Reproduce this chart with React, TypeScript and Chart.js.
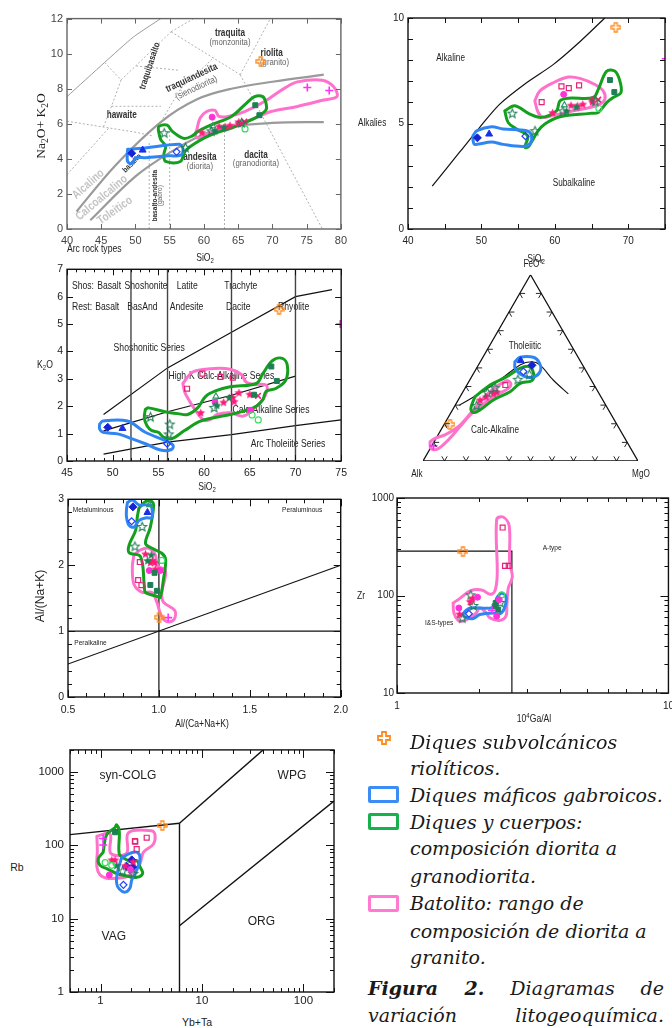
import React, { useEffect, useRef } from 'react';
import { Chart, registerables } from 'chart.js';

Chart.register(...registerables);

type P = [number, number];
type T3 = [number, number, number];

const SANS = '"Liberation Sans", Arial, Helvetica, sans-serif';
const NARROW = 'narrow';
const NARROW_SCALE = 0.82;
const SERIF = '"Liberation Serif", "Times New Roman", serif';
const LEG_SERIF = '"DejaVu Serif", serif';

const BLUE = '#2f86f3';
const GREEN = '#14a01e';
const PINK = '#ff72cc';

// ---------------- DATA: SiO2 vs Na2O+K2O (TAS and Alkalies) ----------------
const SA_ORANGE: P[] = [[68.3, 9.56]];
const SA_BLUE_DIAMOND: P[] = [[49.45, 4.32]];
const SA_BLUE_TRIANGLE: P[] = [[51.05, 4.5]];
const SA_BLUE_OPEN: P[] = [[56.0, 4.4]];
const SA_GREEN_STAR: P[] = [[54.2, 5.49], [57.3, 4.66], [61.1, 5.6], [65.5, 6.07]];
const SA_GREEN_SOLID: P[] = [[61.6, 5.6], [62.9, 5.79]];
const SA_GREEN_TRIANGLE: P[] = [[61.3, 5.87]];
const SA_GREEN_SQUARE: P[] = [[67.5, 7.06], [68.1, 6.49]];
const SA_LIGHT_CIRCLE: P[] = [[66.0, 5.71]];
const SA_PINK_SQUARE: P[] = [[58.2, 6.01], [60.9, 6.76], [61.9, 6.68], [63.3, 6.81]];
const SA_MAGENTA_CIRCLE: P[] = [[61.2, 6.38]];
const SA_PINK_STAR: P[] = [[59.7, 5.52], [62.2, 5.87], [63.1, 5.84], [63.8, 5.92], [65.1, 6.12], [65.1, 6.03]];
const SA_PINK_X: P[] = [[65.9, 6.13]];
const SA_MAGENTA_PLUS: P[] = [[75.1, 8.07], [78.3, 7.9]];

const TAS_BLUE_ENV: P[] = [[48.85, 4.55], [51.02, 4.6], [56.32, 4.83], [56.9, 4.64], [56.71, 4.23], [54.4, 4.17], [51.5, 4.07], [50.07, 4.07], [49.49, 3.74], [48.85, 3.85]];
const TAS_GREEN_ENV: P[] = [[53.33, 5.67], [53.43, 5.86], [54.63, 5.92], [55.35, 5.58], [57.04, 5.17], [58.24, 5.3], [59.21, 5.58], [61.13, 5.95], [64.02, 6.42], [66.18, 7.17], [67.39, 7.55], [68.59, 7.55], [69.07, 7.17], [69.07, 6.8], [67.87, 6.42], [66.43, 6.14], [64.02, 5.76], [61.13, 5.39], [59.21, 5.01], [57.28, 4.45], [56.56, 3.85], [54.4, 3.85], [54.15, 4.26], [54.4, 4.73], [53.67, 5.11]];
const TAS_PINK_ENV: P[] = [[58.96, 5.67], [59.45, 6.33], [60.4, 6.7], [61.61, 6.76], [62.19, 6.42], [63.54, 6.42], [65.95, 6.7], [68.84, 7.27], [71.73, 8.02], [73.65, 8.39], [77.26, 8.49], [78.95, 8.11], [79.42, 7.55], [77.5, 7.36], [73.65, 6.99], [69.8, 6.7], [66.9, 6.24], [64.02, 5.86], [61.13, 5.54], [59.21, 5.17], [58.73, 5.39]];

const TAS_SERIES_UPPER: P[] = [[41.4, 1.0], [47, 3.6], [53.7, 6.1], [59, 7.4], [64, 8.0], [70, 8.4], [77.5, 8.8]];
const TAS_SERIES_LOWER: P[] = [[43.4, 0.5], [50, 3.0], [55.2, 4.4], [60, 5.4], [64, 5.85], [70, 6.05], [77.5, 6.1]];
const TAS_FIELD_OUTER: P[] = [[40, 7.55], [45.5, 9.5], [49.7, 10.95], [53.7, 12]];
const TAS_FIELDS: P[][] = [
  [[40, 6.15], [50.3, 5.5], [52.6, 5.3]],
  [[40, 3.1], [46.2, 5.8]],
  [[45.5, 9.5], [47.9, 8.5], [46.5, 7.0], [45.3, 5.8]],
  [[46.5, 7.0], [53.7, 7.0]],
  [[53.7, 6.1], [56.6, 8.0], [61.5, 9.8]],
  [[50.1, 9.3], [56.4, 9.05]],
  [[47.9, 8.5], [55.2, 11.25]],
  [[55.2, 11.25], [58.5, 12]],
  [[55.2, 11.25], [65.3, 8.8]],
  [[65.3, 8.8], [69.7, 12]],
  [[65.3, 8.8], [77.3, 0]],
  [[52, 0], [52, 4.9]],
  [[55, 0], [55, 5.9]],
  [[63, 0], [63, 6.0]],
];

const ALK_BLUE_ENV: P[] = [[48.86, 4.43], [49.41, 4.66], [51.36, 4.85], [52.95, 4.74], [56.14, 4.66], [56.82, 4.43], [56.59, 4.04], [55.68, 3.91], [52.95, 4.01], [51.36, 4.12], [49.09, 4.01], [48.86, 4.19]];
const ALK_GREEN_ENV: P[] = [[53.18, 5.6], [54.55, 5.84], [56.59, 5.45], [58.18, 5.29], [60.23, 5.6], [60.68, 6.07], [61.82, 6.2], [65.23, 6.23], [65.91, 6.62], [67.05, 7.48], [68.18, 7.48], [68.86, 7.01], [69.0, 6.46], [67.95, 6.23], [67.05, 5.99], [65.91, 5.52], [64.77, 5.48], [60.68, 5.32], [58.64, 4.98], [57.73, 4.66], [56.82, 4.12], [56.36, 3.88], [55.91, 3.88], [56.3, 4.4], [54.77, 4.74], [53.64, 5.05]];
const ALK_PINK_ENV: P[] = [[57.27, 6.07], [57.95, 6.54], [59.77, 6.93], [61.82, 7.2], [63.41, 7.14], [65.45, 6.85], [66.59, 6.54], [66.82, 6.15], [66.14, 5.92], [64.77, 5.76], [62.5, 5.6], [60.68, 5.45], [59.55, 5.37], [58.41, 5.29], [57.73, 5.52]];
const ALK_DIVIDE: P[] = [[43.3, 2.03], [47.05, 3.65], [49.77, 4.82], [52.5, 5.92], [56.14, 6.93], [59.77, 7.79], [62.95, 8.73], [66.8, 10]];

// ---------------- DATA: SiO2 vs K2O ----------------
const K_ORANGE: P[] = [[68.2, 5.54]];
const K_BLUE_DIAMOND: P[] = [[49.46, 1.23]];
const K_BLUE_TRIANGLE: P[] = [[51.07, 1.19]];
const K_BLUE_OPEN: P[] = [[55.96, 0.63]];
const K_GREEN_STAR: P[] = [[54.14, 1.62], [56.25, 1.35], [56.14, 0.99], [61.1, 1.96]];
const K_GREEN_SOLID: P[] = [[61.4, 2.04], [62.75, 2.32]];
const K_GREEN_TRIANGLE: P[] = [[61.3, 2.36]];
const K_GREEN_SQUARE: P[] = [[67.36, 3.45], [67.96, 2.92], [65.46, 2.42]];
const K_LIGHT_CIRCLE: P[] = [[65.25, 1.68], [65.93, 1.5]];
const K_PINK_SQUARE: P[] = [[58.14, 2.64], [59.82, 3.19], [61.79, 3.07], [63.14, 3.04]];
const K_MAGENTA_CIRCLE: P[] = [[61.2, 2.15], [65.07, 1.85]];
const K_PINK_STAR: P[] = [[59.64, 1.77], [62.14, 2.15], [63.14, 2.33], [63.29, 2.18], [63.82, 2.5], [65.0, 2.44]];
const K_PINK_X: P[] = [[65.9, 2.38]];
const K_MAGENTA_PLUS: P[] = [[74.9, 5.0]];

const K_BLUE_ENV: P[] = [[48.57, 1.35], [48.93, 1.46], [51.61, 1.46], [53.57, 1.05], [55.71, 0.75], [56.61, 0.57], [56.43, 0.42], [55.36, 0.39], [53.57, 0.63], [52.14, 0.81], [50.54, 0.99], [48.93, 1.05], [48.57, 1.17]];
const K_GREEN_ENV: P[] = [[53.57, 1.88], [53.93, 1.94], [55.71, 1.8], [57.14, 1.73], [58.21, 1.7], [59.29, 1.94], [60.18, 2.36], [61.25, 2.56], [62.86, 2.71], [65.71, 2.83], [66.43, 3.19], [67.5, 3.67], [68.57, 3.75], [69.11, 3.49], [68.93, 2.95], [67.86, 2.65], [66.79, 2.54], [66.43, 2.24], [65.71, 2.0], [64.29, 1.82], [62.86, 1.7], [61.07, 1.58], [59.46, 1.44], [57.86, 1.11], [56.43, 0.81], [55.54, 0.87], [55.0, 1.05], [54.29, 1.11], [53.75, 1.29], [53.46, 1.58]];
const K_PINK_ENV: P[] = [[57.68, 2.83], [58.75, 3.25], [60.71, 3.37], [62.86, 3.35], [64.11, 3.15], [64.57, 2.89], [65.36, 2.8], [66.79, 2.77], [66.86, 2.54], [66.43, 2.24], [65.36, 1.88], [64.29, 1.64], [62.86, 1.76], [61.43, 1.7], [60.71, 1.52], [60.0, 1.49], [59.11, 1.82], [58.21, 2.3], [57.86, 2.54]];

const K_DIVIDERS: number[] = [52, 56, 63, 70];
const K_SHOSHONITIC: P[] = [[49, 1.7], [56, 3.4], [63, 4.7], [70, 6.0], [74, 6.26]];
const K_HIGHK: P[] = [[49, 1.1], [52, 1.4], [56, 1.8], [63, 2.4], [70, 3.1]];
const K_THOLEIITE: P[] = [[49, 0.25], [56, 0.69], [63, 0.96], [70, 1.29], [75, 1.5]];

// ---------------- DATA: AFM ternary [FeO*, Alk, MgO] (%) ----------------
const AFM_ORANGE: T3[] = [[19.7, 77.6, 2.7]];
const AFM_BLUE_DIAMOND: T3[] = [[51.4, 23.6, 25.0]];
const AFM_BLUE_TRIANGLE: T3[] = [[53.9, 27.6, 18.5]];
const AFM_BLUE_OPEN: T3[] = [[48.0, 29.3, 22.7]];
const AFM_GREEN_STAR: T3[] = [[46.7, 27.2, 26.1], [43.9, 33.9, 22.2], [39.4, 46.8, 13.8], [29.9, 60.1, 10.0], [36.9, 51.6, 11.5]];
const AFM_PINK_SQUARE: T3[] = [[40.8, 41.3, 17.9]];
const AFM_PINK_STAR: T3[] = [[32.8, 57.1, 10.1], [34.5, 53.4, 12.1], [36.4, 49.1, 14.5], [37.2, 47.1, 15.7]];
const AFM_MAGENTA_PLUS: T3[] = [[8.1, 91.1, 0.8]];

const AFM_TRIANGLE: T3[] = [[100, 0, 0], [0, 100, 0], [0, 0, 100], [100, 0, 0]];
const AFM_DIVIDE: T3[] = [[30.0, 68.1, 1.9], [36.4, 55.3, 8.3], [43.5, 42.5, 14.0], [51.6, 29.1, 19.3], [53.3, 22.8, 23.9], [51.6, 19.8, 28.6], [43.5, 17.7, 38.8], [36.0, 14.4, 49.6]];
const AFM_BLUE_ENV: T3[] = [[53.3, 30.6, 16.1], [55.7, 27.0, 17.3], [55.7, 20.8, 23.5], [52.8, 19.5, 27.7], [48.9, 20.8, 30.3], [45.6, 24.6, 29.8], [44.9, 28.5, 26.6], [46.7, 31.5, 21.8], [49.8, 32.3, 17.9]];
const AFM_GREEN_ENV: T3[] = [[34.5, 58.6, 6.9], [40.8, 48.4, 10.8], [45.3, 38.4, 16.3], [49.8, 30.0, 20.2], [50.7, 25.2, 24.1], [46.2, 25.3, 28.5], [43.1, 27.9, 29.0], [41.7, 34.0, 24.3], [37.2, 40.9, 21.9], [32.8, 50.9, 16.3], [27.4, 59.8, 12.8], [26.0, 63.6, 10.4], [28.3, 63.6, 8.1]];
const AFM_PINK_ENV: T3[] = [[10.4, 91.5, -1.9], [12.2, 88.3, -0.5], [14.0, 82.8, 3.2], [19.3, 73.1, 7.6], [27.4, 62.9, 9.7], [37.2, 50.2, 12.6], [43.1, 39.5, 17.4], [41.7, 38.3, 20.0], [39.0, 40.8, 20.2], [34.5, 50.0, 15.5], [29.2, 58.9, 11.9], [24.7, 65.7, 9.6], [18.5, 73.5, 8.0], [10.4, 83.8, 5.8], [6.2, 90.5, 3.3], [6.8, 93.0, 0.2]];
const AFM_TICKS: number[] = [10, 20, 30, 40, 50, 60, 70, 80, 90];

// ---------------- DATA: A/CNK vs A/NK ----------------
const AC_ORANGE: P[] = [[1.001, 1.21]];
const AC_BLUE_DIAMOND: P[] = [[0.857, 2.885]];
const AC_BLUE_TRIANGLE: P[] = [[0.937, 2.8]];
const AC_BLUE_OPEN: P[] = [[0.85, 2.667]];
const AC_GREEN_TRIANGLE: P[] = [[0.949, 2.915]];
const AC_GREEN_STAR: P[] = [[0.908, 2.588], [0.868, 2.29]];
const AC_GREEN_SOLID: P[] = [[0.958, 2.157], [0.938, 2.072]];
const AC_LIGHT_CIRCLE: P[] = [[1.016, 2.072]];
const AC_GREEN_SQUARE: P[] = [[0.953, 1.7], [0.989, 1.611], [0.976, 1.884]];
const AC_PINK_STAR: P[] = [[0.926, 2.172], [0.953, 2.043], [0.965, 2.07], [0.976, 2.043], [0.98, 1.943]];
const AC_PINK_SQUARE: P[] = [[0.895, 2.048], [0.886, 1.775], [0.904, 1.696]];
const AC_MAGENTA_CIRCLE: P[] = [[0.947, 1.919], [1.007, 1.919]];
const AC_MAGENTA_PLUS: P[] = [[1.051, 1.205]];

const AC_BLUE_ENV: P[] = [[0.827, 2.95], [0.854, 2.99], [0.89, 2.915], [0.953, 2.915], [0.962, 2.851], [0.962, 2.727], [0.926, 2.717], [0.89, 2.677], [0.863, 2.578], [0.836, 2.603], [0.822, 2.727], [0.822, 2.851]];
const AC_GREEN_ENV: P[] = [[0.89, 2.866], [0.926, 2.965], [0.962, 2.965], [0.971, 2.9], [0.953, 2.578], [0.926, 2.33], [0.962, 2.256], [1.016, 2.181], [1.037, 2.082], [1.025, 1.785], [1.007, 1.512], [0.989, 1.527], [0.926, 1.587], [0.92, 1.686], [0.899, 2.132], [0.836, 2.191], [0.836, 2.305], [0.872, 2.528], [0.881, 2.727]];
const AC_PINK_ENV: P[] = [[0.863, 2.157], [0.899, 2.231], [0.944, 2.256], [0.98, 2.157], [0.994, 1.983], [1.034, 1.934], [1.034, 1.81], [1.016, 1.587], [1.025, 1.438], [1.087, 1.314], [1.084, 1.18], [1.051, 1.14], [1.016, 1.215], [0.989, 1.438], [0.962, 1.587], [0.908, 1.587], [0.863, 1.71], [0.854, 1.983]];
const AC_VERTICAL: P[] = [[1, 0], [1, 3]];
const AC_HORIZONTAL: P[] = [[0.5, 1], [2, 1]];
const AC_DIAGONAL: P[] = [[0.5, 0.5], [2, 2]];

// ---------------- DATA: 10^4 Ga/Al vs Zr ----------------
const ZR_ORANGE: P[] = [[1.75, 283]];
const ZR_PINK_SQUARE: P[] = [[2.45, 498], [2.5, 201], [2.58, 201]];
const ZR_MAGENTA_CIRCLE: P[] = [[1.69, 74.5], [1.98, 96], [2.38, 90.4], [2.33, 61.4]];
const ZR_PINK_STAR: P[] = [[1.7, 64.7], [1.86, 87], [1.9, 94]];
const ZR_GREEN_STAR: P[] = [[1.74, 59], [1.87, 101.6], [1.91, 79], [2.4, 85]];
const ZR_BLUE_OPEN: P[] = [[1.84, 65]];
const ZR_MAGENTA_PLUS: P[] = [[2.24, 70.5]];
const ZR_GREEN_SQUARE: P[] = [[2.29, 77.4], [2.36, 71.7], [2.31, 83.6]];
const ZR_LIGHT_CIRCLE: P[] = [[2.43, 101.6]];

const ZR_BLUE_ENV: P[] = [[1.78, 68.9], [1.86, 74.5], [2.26, 75.7], [2.33, 94.0], [2.43, 105.5], [2.52, 97.7], [2.49, 74.5], [2.39, 64.7], [2.26, 66.3], [2.02, 63.8], [1.91, 58.1], [1.81, 59.0], [1.75, 63.8]];
const ZR_PINK_ENV: P[] = [[1.61, 83.6], [1.71, 94.0], [1.86, 111.5], [2.05, 114], [2.2, 103], [2.29, 109.7], [2.34, 161.8], [2.33, 604], [2.46, 638], [2.59, 518], [2.6, 220], [2.66, 155.6], [2.57, 118.6], [2.54, 80.5], [2.52, 61.4], [2.39, 55.5], [2.2, 59], [2.13, 66.3], [2.02, 74.5], [1.96, 66.3], [1.86, 59], [1.75, 54.6], [1.68, 55.5], [1.62, 66.3]];
const ZR_LIMIT: P[] = [[1, 285], [2.65, 285], [2.65, 10]];

// ---------------- DATA: Yb+Ta vs Rb ----------------
const RB_ORANGE: P[] = [[4.06, 186.6]];
const RB_GREEN_SQUARE: P[] = [[1.39, 150.6]];
const RB_MAGENTA_PLUS: P[] = [[1.06, 124], [1.06, 101]];
const RB_PINK_SQUARE: P[] = [[2.18, 114], [2.85, 127], [2.27, 88.7], [2.2, 112]];
const RB_LIGHT_CIRCLE: P[] = [[1.11, 58], [1.29, 53.3]];
const RB_MAGENTA_CIRCLE: P[] = [[1.22, 39.3], [1.97, 47]];
const RB_PINK_STAR: P[] = [[1.29, 63.4], [1.39, 63.4], [2.1, 60], [1.75, 53]];
const RB_GREEN_SOLID: P[] = [[1.44, 53.3]];
const RB_BLUE_DIAMOND: P[] = [[1.81, 51.8], [2.03, 63.4], [2.07, 50.7]];
const RB_BLUE_OPEN: P[] = [[1.68, 28.9]];
const RB_GREEN_STAR: P[] = [[1.65, 44.9], [2.1, 41.3]];

const RB_BLUE_ENV: P[] = [[1.61, 67.5], [1.95, 77.8], [2.3, 80.2], [2.45, 65.5], [2.27, 45.8], [2.03, 33.7], [1.95, 26.2], [1.74, 23], [1.53, 25.3], [1.44, 30.5], [1.46, 41.3]];
const RB_GREEN_ENV: P[] = [[1.06, 80.2], [1.15, 140], [1.39, 175], [1.44, 190.6], [1.53, 155], [1.53, 76.2], [1.74, 65.5], [2.03, 59.2], [2.27, 62.1], [2.45, 50.7], [2.6, 41.3], [2.27, 36.6], [1.81, 38.1], [1.44, 41.3], [1.15, 48.2], [0.99, 53.3], [0.95, 65.5]];
const RB_PINK_ENV: P[] = [[0.92, 133], [1.24, 143], [1.26, 77.8], [1.81, 77.8], [1.88, 147.6], [3.19, 158.5], [3.44, 140], [3.31, 103.5], [2.64, 80.2], [2.45, 56.1], [2.1, 43.4], [1.81, 37.3], [1.39, 35.5], [1.15, 35.5], [0.99, 39.3], [0.92, 50.7], [0.93, 84.3]];
const RB_COLG: P[] = [[0.5, 140], [6, 200]];
const RB_VAG: P[] = [[6, 1], [6, 200]];
const RB_WPG: P[] = [[6, 200], [40, 2000]];
const RB_ORG: P[] = [[6, 8], [200, 400]];

// ---------------- LEGEND / CAPTION ----------------
const LEGEND_TEXT: [string, number][] = [
  ['Diques subvolcánicos', 742],
  ['riolíticos.', 768],
  ['Diques máficos gabroicos.', 795],
  ['Diques y cuerpos:', 822],
  ['composición diorita a', 848],
  ['granodiorita.', 876],
  ['Batolito: rango de', 903],
  ['composición de diorita a', 931],
  ['granito.', 957],
];

// ---------------- helpers ----------------
type Kind = 'orange' | 'blueDiamond' | 'blueTriangle' | 'blueOpen' | 'greenStar' | 'greenSolid' | 'greenTriangle' | 'greenSquare' | 'lightCircle' | 'pinkSquare' | 'magentaCircle' | 'pinkStar' | 'pinkX' | 'magentaPlus';

function tern(v: T3): P {
  const s = v[0] + v[1] + v[2];
  const f = v[0] / s, m = v[2] / s;
  return [m + f / 2, f * 0.8660254];
}
const ternAll = (a: T3[]): P[] => a.map(tern);

function range(a: number, b: number, step: number): number[] {
  const out: number[] = [];
  for (let v = a; v <= b + 1e-9; v += step) out.push(Math.round(v * 1000) / 1000);
  return out;
}
function logMinor(lo: number, hi: number): number[] {
  const out: number[] = [];
  for (let d = 0.1; d <= hi; d *= 10) for (let k = 2; k <= 9; k++) { const v = Math.round(k * d * 1000) / 1000; if (v >= lo && v <= hi) out.push(v); }
  return out;
}

function starCanvas(color: string, filled: boolean, R = 4.6) {
  const s = Math.ceil(R * 2 + 3);
  const c = document.createElement('canvas');
  c.width = s; c.height = s;
  const g = c.getContext('2d')!;
  g.beginPath();
  for (let i = 0; i < 10; i++) {
    const rr = i % 2 ? R * 0.45 : R;
    const a = -Math.PI / 2 + (i * Math.PI) / 5;
    const px = s / 2 + rr * Math.cos(a), py = s / 2 + 0.5 + rr * Math.sin(a);
    if (i) g.lineTo(px, py); else g.moveTo(px, py);
  }
  g.closePath();
  if (filled) { g.fillStyle = color; g.fill(); } else { g.strokeStyle = color; g.lineWidth = 1.1; g.stroke(); }
  return c;
}
function plusCanvas(color: string) {
  const c = document.createElement('canvas');
  c.width = 11; c.height = 11;
  const g = c.getContext('2d')!;
  g.strokeStyle = color; g.lineWidth = 1.3;
  g.beginPath();
  g.moveTo(4, 1); g.lineTo(7, 1); g.lineTo(7, 4); g.lineTo(10, 4); g.lineTo(10, 7); g.lineTo(7, 7); g.lineTo(7, 10);
  g.lineTo(4, 10); g.lineTo(4, 7); g.lineTo(1, 7); g.lineTo(1, 4); g.lineTo(4, 4); g.closePath();
  g.stroke();
  return c;
}

function markerStyle(kind: Kind): any {
  switch (kind) {
    case 'orange': return { pointStyle: plusCanvas('#ff8a1e'), pointRadius: 4 };
    case 'blueDiamond': return { pointStyle: 'rectRot', pointRadius: 4, pointBackgroundColor: '#1424d4', pointBorderColor: '#1424d4', pointBorderWidth: 1 };
    case 'blueTriangle': return { pointStyle: 'triangle', pointRadius: 4, pointBackgroundColor: '#1830e8', pointBorderColor: '#1830e8', pointBorderWidth: 1 };
    case 'blueOpen': return { pointStyle: 'rectRot', pointRadius: 3.5, pointBackgroundColor: 'rgba(255,255,255,0)', pointBorderColor: '#2040ff', pointBorderWidth: 1.2 };
    case 'greenStar': return { pointStyle: starCanvas('#1e7f55', false), pointRadius: 4 };
    case 'greenSolid': return { pointStyle: starCanvas('#1e7f55', true), pointRadius: 4 };
    case 'greenTriangle': return { pointStyle: 'triangle', pointRadius: 3.5, pointBackgroundColor: 'rgba(255,255,255,0)', pointBorderColor: '#2e9a6a', pointBorderWidth: 1.1 };
    case 'greenSquare': return { pointStyle: 'rect', pointRadius: 3.5, pointBackgroundColor: '#1e7f55', pointBorderColor: '#1e7f55', pointBorderWidth: 1 };
    case 'lightCircle': return { pointStyle: 'circle', pointRadius: 3, pointBackgroundColor: 'rgba(255,255,255,0)', pointBorderColor: '#38e060', pointBorderWidth: 1.2 };
    case 'pinkSquare': return { pointStyle: 'rect', pointRadius: 3.5, pointBackgroundColor: 'rgba(255,255,255,0)', pointBorderColor: '#e8207a', pointBorderWidth: 1.2 };
    case 'magentaCircle': return { pointStyle: 'circle', pointRadius: 3, pointBackgroundColor: '#ff30d8', pointBorderColor: '#ff30d8', pointBorderWidth: 1 };
    case 'pinkStar': return { pointStyle: starCanvas('#ff1a78', true), pointRadius: 4 };
    case 'pinkX': return { pointStyle: 'crossRot', pointRadius: 4, pointBorderColor: '#ff1a78', pointBorderWidth: 1.6 };
    case 'magentaPlus': return { pointStyle: 'cross', pointRadius: 4, pointBorderColor: '#ff30ff', pointBorderWidth: 1.6 };
  }
}

interface LineSpec { pts: P[]; color: string; width: number; dash?: number[]; tension?: number }
interface TextSpec { text: string; x: number; y: number; size: number; color?: string; weight?: string; rot?: number; align?: CanvasTextAlign; family?: string }
interface AxisSpec { type: 'linear' | 'logarithmic'; min: number; max: number; labels: number[]; fmt?: (v: number) => string; size: number; pad: number; color?: string }
interface FrameSpec { color: string; width: number; xMajor: number[]; xMinor: number[]; yMajor: number[]; yMinor: number[]; majorLen: number; minorLen: number }
interface Spec {
  area: [number, number, number, number];
  pad: { l: number; t: number; r: number; b: number };
  x?: AxisSpec; y?: AxisSpec;
  hidden?: { xMin: number; xMax: number; yMin: number; yMax: number };
  lines: LineSpec[]; envelopes: LineSpec[]; samples: [Kind, P[]][];
  texts: TextSpec[];
  frame?: FrameSpec;
  extra?: (chart: any) => void;
}

const env = (pts: P[], color: string, width = 3): LineSpec => ({ pts, color, width });

// ---------------- panel specs ----------------
const TAS_SPEC: Spec = {
  area: [67, 16, 344, 229], pad: { l: 40, t: 8, r: 8, b: 22 },
  x: { type: 'linear', min: 40, max: 80, labels: range(40, 80, 5), size: 11, pad: 5, color: '#444' },
  y: { type: 'linear', min: 0, max: 12, labels: range(0, 12, 2), size: 11, pad: 4, color: '#444' },
  lines: [
    ...TAS_FIELDS.map((pts) => ({ pts, color: '#a8a8a8', width: 0.9, dash: [2, 2] })),
    { pts: TAS_FIELD_OUTER, color: '#9a9a9a', width: 1, tension: 0.2 },
    { pts: TAS_SERIES_UPPER, color: '#9a9a9a', width: 2.2, tension: 0.35 },
    { pts: TAS_SERIES_LOWER, color: '#9a9a9a', width: 2.2, tension: 0.35 },
  ],
  envelopes: [env(TAS_BLUE_ENV, BLUE), env(TAS_GREEN_ENV, GREEN), env(TAS_PINK_ENV, PINK)],
  samples: [
    ['orange', SA_ORANGE], ['blueDiamond', SA_BLUE_DIAMOND], ['blueTriangle', SA_BLUE_TRIANGLE], ['blueOpen', SA_BLUE_OPEN],
    ['greenStar', SA_GREEN_STAR], ['greenSolid', SA_GREEN_SOLID], ['greenTriangle', SA_GREEN_TRIANGLE], ['greenSquare', SA_GREEN_SQUARE],
    ['lightCircle', SA_LIGHT_CIRCLE], ['magentaCircle', SA_MAGENTA_CIRCLE], ['pinkStar', SA_PINK_STAR], ['pinkX', SA_PINK_X], ['magentaPlus', SA_MAGENTA_PLUS],
  ],
  texts: [
    { text: 'traquita', x: 63.8, y: 11.15, size: 10, weight: 'bold', color: '#333' },
    { text: '(monzonita)', x: 63.8, y: 10.65, size: 9.5, color: '#666' },
    { text: 'riolita', x: 69.9, y: 10.0, size: 10, weight: 'bold', color: '#333' },
    { text: '(granito)', x: 70.3, y: 9.52, size: 9.5, color: '#666' },
    { text: 'traquiandesita', x: 58.2, y: 8.62, size: 10, weight: 'bold', color: '#333', rot: -25 },
    { text: '(sienodiorita)', x: 58.9, y: 8.05, size: 9.5, color: '#666', rot: -25 },
    { text: 'traquibasalto', x: 52.1, y: 9.3, size: 9.5, weight: 'bold', color: '#333', rot: -72 },
    { text: 'hawaite', x: 48.0, y: 6.5, size: 10, weight: 'bold', color: '#333' },
    { text: 'andesita', x: 59.4, y: 4.07, size: 10, weight: 'bold', color: '#333' },
    { text: '(diorita)', x: 59.4, y: 3.58, size: 9.5, color: '#666' },
    { text: 'dacita', x: 67.6, y: 4.2, size: 10, weight: 'bold', color: '#333' },
    { text: '(granodiorita)', x: 67.6, y: 3.72, size: 9.5, color: '#666' },
    { text: 'basalto-andesita', x: 52.75, y: 1.9, size: 8, weight: 'bold', color: '#333', rot: -90 },
    { text: '(gabro)', x: 53.6, y: 1.9, size: 8, color: '#666', rot: -90 },
    { text: 'basalto', x: 49.5, y: 3.75, size: 8, weight: 'bold', color: '#333', rot: -45 },
    { text: 'Alcalino', x: 43.1, y: 2.55, size: 12, weight: 'bold', color: '#c4c4c4', rot: -42 },
    { text: 'Calcoalcalino', x: 45.05, y: 1.78, size: 12, weight: 'bold', color: '#c4c4c4', rot: -40 },
    { text: 'Toleitico', x: 47.0, y: 1.05, size: 12, weight: 'bold', color: '#c4c4c4', rot: -35 },
  ],
  frame: { color: '#666', width: 1.4, xMajor: range(40, 80, 5), xMinor: [], yMajor: range(0, 12, 2), yMinor: [], majorLen: 5, minorLen: 3 },
};

const ALK_SPEC: Spec = {
  area: [408, 16, 665, 229], pad: { l: 30, t: 8, r: 7, b: 22 },
  x: { type: 'linear', min: 40, max: 75, labels: [40, 50, 60, 70], size: 10, pad: 6 },
  y: { type: 'linear', min: 0, max: 10, labels: [0, 5, 10], size: 10, pad: 4 },
  lines: [{ pts: ALK_DIVIDE, color: '#111', width: 1.2, tension: 0.3 }],
  envelopes: [env(ALK_BLUE_ENV, BLUE), env(ALK_GREEN_ENV, GREEN), env(ALK_PINK_ENV, PINK)],
  samples: [
    ['orange', SA_ORANGE], ['blueDiamond', SA_BLUE_DIAMOND], ['blueTriangle', SA_BLUE_TRIANGLE], ['blueOpen', SA_BLUE_OPEN],
    ['greenStar', SA_GREEN_STAR], ['greenSolid', SA_GREEN_SOLID], ['greenTriangle', SA_GREEN_TRIANGLE], ['greenSquare', SA_GREEN_SQUARE],
    ['lightCircle', SA_LIGHT_CIRCLE], ['pinkSquare', SA_PINK_SQUARE], ['magentaCircle', SA_MAGENTA_CIRCLE], ['pinkStar', SA_PINK_STAR], ['pinkX', SA_PINK_X], ['magentaPlus', SA_MAGENTA_PLUS],
  ],
  texts: [
    { text: 'Alkaline', x: 45.8, y: 8.1, size: 10 },
    { text: 'Subalkaline', x: 62.6, y: 2.16, size: 10 },
  ],
  frame: { color: '#111', width: 1.4, xMajor: range(40, 75, 5), xMinor: [], yMajor: range(0, 10, 1), yMinor: [], majorLen: 5, minorLen: 3 },
};

const K_SPEC: Spec = {
  area: [67, 265, 347, 461], pad: { l: 30, t: 6, r: 6, b: 20 },
  x: { type: 'linear', min: 45, max: 75, labels: range(45, 75, 5), size: 10.5, pad: 6 },
  y: { type: 'linear', min: 0, max: 7, labels: range(0, 7, 1), size: 10.5, pad: 4 },
  lines: [
    ...K_DIVIDERS.map((v) => ({ pts: [[v, 0], [v, 7]] as P[], color: '#444', width: 1.4 })),
    { pts: K_SHOSHONITIC, color: '#111', width: 1.2 },
    { pts: K_HIGHK, color: '#111', width: 1.2 },
    { pts: K_THOLEIITE, color: '#111', width: 1.2 },
  ],
  envelopes: [env(K_BLUE_ENV, BLUE), env(K_GREEN_ENV, GREEN), env(K_PINK_ENV, PINK)],
  samples: [
    ['orange', K_ORANGE], ['blueDiamond', K_BLUE_DIAMOND], ['blueTriangle', K_BLUE_TRIANGLE], ['blueOpen', K_BLUE_OPEN],
    ['greenStar', K_GREEN_STAR], ['greenSolid', K_GREEN_SOLID], ['greenTriangle', K_GREEN_TRIANGLE], ['greenSquare', K_GREEN_SQUARE],
    ['lightCircle', K_LIGHT_CIRCLE], ['pinkSquare', K_PINK_SQUARE], ['magentaCircle', K_MAGENTA_CIRCLE], ['pinkStar', K_PINK_STAR], ['pinkX', K_PINK_X], ['magentaPlus', K_MAGENTA_PLUS],
  ],
  texts: [
    { text: 'Shos:', x: 45.54, y: 6.37, size: 10.5, align: 'left' },
    { text: 'Basalt', x: 48.3, y: 6.37, size: 10.5, align: 'left' },
    { text: 'Shoshonite', x: 51.3, y: 6.37, size: 10.5, align: 'left' },
    { text: 'Latite', x: 57.0, y: 6.37, size: 10.5, align: 'left' },
    { text: 'Trachyte', x: 62.2, y: 6.37, size: 10.5, align: 'left' },
    { text: 'Rest:', x: 45.54, y: 5.63, size: 10.5, align: 'left' },
    { text: 'Basalt', x: 48.1, y: 5.63, size: 10.5, align: 'left' },
    { text: 'BasAnd', x: 51.6, y: 5.63, size: 10.5, align: 'left' },
    { text: 'Andesite', x: 56.25, y: 5.63, size: 10.5, align: 'left' },
    { text: 'Dacite', x: 62.4, y: 5.63, size: 10.5, align: 'left' },
    { text: 'Rhyolite', x: 68.1, y: 5.63, size: 10.5, align: 'left' },
    { text: 'Shoshonitic Series', x: 50.1, y: 4.11, size: 10.5, align: 'left' },
    { text: 'High-K Calc-Alkaline Series', x: 56.1, y: 3.1, size: 10.5, align: 'left' },
    { text: 'Calc-Alkaline Series', x: 63.1, y: 1.87, size: 10.5, align: 'left' },
    { text: 'Arc Tholeiite Series', x: 65.1, y: 0.63, size: 10.5, align: 'left' },
  ],
  frame: { color: '#111', width: 1.4, xMajor: range(45, 75, 5), xMinor: range(45, 75, 1), yMajor: range(0, 7, 1), yMinor: [], majorLen: 6, minorLen: 3 },
};

function afmTicks(chart: any) {
  const { ctx, scales: { x, y } } = chart;
  const px = (v: T3) => { const p = tern(v); return [x.getPixelForValue(p[0]), y.getPixelForValue(p[1])]; };
  const seg = (a: T3, b: T3) => { const p = px(a), q = px(b); ctx.moveTo(p[0], p[1]); ctx.lineTo(q[0], q[1]); };
  const d = 2.5;
  ctx.save();
  ctx.strokeStyle = '#111'; ctx.lineWidth = 0.9;
  ctx.beginPath();
  AFM_TICKS.forEach((t) => {
    seg([0, 100 - t, t], [d, 100 - t - d, t]);
    seg([0, 100 - t, t], [d, 100 - t, t - d]);
    seg([t, 100 - t, 0], [t, 100 - t - d, d]);
    seg([t, 100 - t, 0], [t - d, 100 - t, d]);
    seg([t, 0, 100 - t], [t, d, 100 - t - d]);
    seg([t, 0, 100 - t], [t - d, d, 100 - t]);
  });
  ctx.stroke();
  ctx.restore();
}

const AFM_SPEC: Spec = {
  area: [423, 274.8, 638, 461], pad: { l: 6, t: 6, r: 6, b: 6 },
  hidden: { xMin: 0, xMax: 1, yMin: 0, yMax: 0.8660254 },
  lines: [
    { pts: ternAll(AFM_TRIANGLE), color: '#111', width: 1.3 },
    { pts: ternAll(AFM_DIVIDE), color: '#111', width: 1.1, tension: 0.3 },
  ],
  envelopes: [env(ternAll(AFM_BLUE_ENV), BLUE), env(ternAll(AFM_GREEN_ENV), GREEN), env(ternAll(AFM_PINK_ENV), PINK)],
  samples: [
    ['orange', ternAll(AFM_ORANGE)], ['blueDiamond', ternAll(AFM_BLUE_DIAMOND)], ['blueTriangle', ternAll(AFM_BLUE_TRIANGLE)], ['blueOpen', ternAll(AFM_BLUE_OPEN)],
    ['greenStar', ternAll(AFM_GREEN_STAR)], ['pinkSquare', ternAll(AFM_PINK_SQUARE)], ['pinkStar', ternAll(AFM_PINK_STAR)], ['magentaPlus', ternAll(AFM_MAGENTA_PLUS)],
  ],
  texts: [
    { text: 'Tholeiitic', x: tern([61.8, 21.7, 16.5])[0], y: tern([61.8, 21.7, 16.5])[1], size: 10 },
    { text: 'Calc-Alkaline', x: tern([16.6, 58.2, 25.2])[0], y: tern([16.6, 58.2, 25.2])[1], size: 10 },
  ],
  extra: afmTicks,
};

const AC_SPEC: Spec = {
  area: [68, 495, 346, 697], pad: { l: 30, t: 6, r: 9, b: 22 },
  x: { type: 'linear', min: 0.5, max: 2, labels: [0.5, 1, 1.5, 2], fmt: (v) => v.toFixed(1), size: 10.5, pad: 7 },
  y: { type: 'linear', min: 0, max: 3, labels: [0, 1, 2, 3], size: 10.5, pad: 4 },
  lines: [
    { pts: AC_VERTICAL, color: '#111', width: 1.2 },
    { pts: AC_HORIZONTAL, color: '#111', width: 1.2 },
    { pts: AC_DIAGONAL, color: '#111', width: 1.2 },
  ],
  envelopes: [env(AC_BLUE_ENV, BLUE), env(AC_GREEN_ENV, GREEN), env(AC_PINK_ENV, PINK)],
  samples: [
    ['orange', AC_ORANGE], ['blueDiamond', AC_BLUE_DIAMOND], ['blueTriangle', AC_BLUE_TRIANGLE], ['blueOpen', AC_BLUE_OPEN],
    ['greenTriangle', AC_GREEN_TRIANGLE], ['greenStar', AC_GREEN_STAR], ['greenSolid', AC_GREEN_SOLID], ['lightCircle', AC_LIGHT_CIRCLE],
    ['greenSquare', AC_GREEN_SQUARE], ['pinkStar', AC_PINK_STAR], ['pinkSquare', AC_PINK_SQUARE], ['magentaCircle', AC_MAGENTA_CIRCLE], ['magentaPlus', AC_MAGENTA_PLUS],
  ],
  texts: [
    { text: 'Metaluminous', x: 0.638, y: 2.836, size: 8 },
    { text: 'Peraluminous', x: 1.788, y: 2.836, size: 8 },
    { text: 'Peralkaline', x: 0.624, y: 0.828, size: 8 },
  ],
  frame: { color: '#111', width: 1.4, xMajor: [0.5, 1, 1.5, 2], xMinor: range(0.5, 2, 0.1), yMajor: [0, 1, 2, 3], yMinor: range(0, 3, 0.2), majorLen: 7, minorLen: 4 },
};

const ZR_SPEC: Spec = {
  area: [397, 495, 669, 693], pad: { l: 32, t: 6, r: 12, b: 22 },
  x: { type: 'logarithmic', min: 1, max: 10, labels: [1, 10], size: 10, pad: 7 },
  y: { type: 'logarithmic', min: 10, max: 1000, labels: [10, 100, 1000], size: 10, pad: 3 },
  lines: [{ pts: ZR_LIMIT, color: '#111', width: 1.2 }],
  envelopes: [env(ZR_BLUE_ENV, BLUE), env(ZR_PINK_ENV, PINK)],
  samples: [
    ['orange', ZR_ORANGE], ['pinkSquare', ZR_PINK_SQUARE], ['magentaCircle', ZR_MAGENTA_CIRCLE], ['pinkStar', ZR_PINK_STAR],
    ['greenStar', ZR_GREEN_STAR], ['blueOpen', ZR_BLUE_OPEN], ['magentaPlus', ZR_MAGENTA_PLUS], ['greenSquare', ZR_GREEN_SQUARE], ['lightCircle', ZR_LIGHT_CIRCLE],
  ],
  texts: [
    { text: 'A-type', x: 3.73, y: 312, size: 8 },
    { text: 'I&S-types', x: 1.43, y: 52.5, size: 8 },
  ],
  frame: { color: '#111', width: 1.4, xMajor: [1, 10], xMinor: logMinor(1, 10), yMajor: [10, 100, 1000], yMinor: logMinor(10, 1000), majorLen: 8, minorLen: 4 },
};

const RB_SPEC: Spec = {
  area: [70, 743, 334, 992], pad: { l: 35, t: 6, r: 6, b: 20 },
  x: { type: 'logarithmic', min: 0.5, max: 200, labels: [1, 10, 100], size: 11.5, pad: 2 },
  y: { type: 'logarithmic', min: 1, max: 2000, labels: [1, 10, 100, 1000], size: 11.5, pad: 6 },
  lines: [
    { pts: RB_COLG, color: '#111', width: 1.4 },
    { pts: RB_VAG, color: '#111', width: 1.4 },
    { pts: RB_WPG, color: '#111', width: 1.4 },
    { pts: RB_ORG, color: '#111', width: 1.4 },
  ],
  envelopes: [env(RB_BLUE_ENV, BLUE), env(RB_GREEN_ENV, GREEN), env(RB_PINK_ENV, PINK)],
  samples: [
    ['orange', RB_ORANGE], ['greenSquare', RB_GREEN_SQUARE], ['magentaPlus', RB_MAGENTA_PLUS], ['pinkSquare', RB_PINK_SQUARE],
    ['lightCircle', RB_LIGHT_CIRCLE], ['magentaCircle', RB_MAGENTA_CIRCLE], ['pinkStar', RB_PINK_STAR], ['greenSolid', RB_GREEN_SOLID],
    ['blueDiamond', RB_BLUE_DIAMOND], ['blueOpen', RB_BLUE_OPEN], ['greenStar', RB_GREEN_STAR],
  ],
  texts: [
    { text: 'syn-COLG', x: 1.86, y: 877, size: 12, family: SANS },
    { text: 'WPG', x: 77, y: 877, size: 12, family: SANS },
    { text: 'VAG', x: 1.35, y: 5.68, size: 12, family: SANS },
    { text: 'ORG', x: 38.5, y: 8.96, size: 12, family: SANS },
  ],
  frame: { color: '#111', width: 1.4, xMajor: [1, 10, 100], xMinor: logMinor(0.5, 200), yMajor: [1, 10, 100, 1000], yMinor: logMinor(1, 2000), majorLen: 8, minorLen: 4 },
};

const SPECS: Spec[] = [TAS_SPEC, ALK_SPEC, K_SPEC, AFM_SPEC, AC_SPEC, ZR_SPEC, RB_SPEC];

// ---------------- chart building ----------------
function geometry(spec: Spec) {
  const [l, t, r, b] = spec.area;
  const cl = Math.floor(l - spec.pad.l), ct = Math.floor(t - spec.pad.t);
  const W = Math.ceil(r + spec.pad.r - cl), H = Math.ceil(b + spec.pad.b - ct);
  return { cl, ct, W, H, padL: l - cl, padT: t - ct, padR: W - (r - cl), padB: H - (b - ct) };
}

function buildConfig(spec: Spec): any {
  const g = geometry(spec);
  const toXY = (pts: P[]) => pts.map(([x, y]) => ({ x, y }));
  const datasets: any[] = [];
  spec.samples.forEach(([kind, pts]) => datasets.push({ data: toXY(pts), showLine: false, order: 1, pointHoverRadius: 0, ...markerStyle(kind) }));
  spec.envelopes.forEach((e) => datasets.push({ data: toXY([...e.pts, e.pts[0]]), showLine: true, borderColor: e.color, borderWidth: e.width, pointRadius: 0, pointHoverRadius: 0, tension: 0.35, fill: false, order: 2, borderJoinStyle: 'round', borderCapStyle: 'round' }));
  spec.lines.forEach((ln) => datasets.push({ data: toXY(ln.pts), showLine: true, borderColor: ln.color, borderWidth: ln.width, borderDash: ln.dash || [], pointRadius: 0, pointHoverRadius: 0, tension: ln.tension || 0, fill: false, order: 3 }));

  const axis = (a: AxisSpec, pos: string, size: number) => ({
    type: a.type, position: pos, min: a.min, max: a.max,
    grid: { display: false, drawTicks: false }, border: { display: false },
    ticks: { autoSkip: false, maxRotation: 0, minRotation: 0, padding: a.pad, color: a.color || '#222', font: { family: SANS, size: a.size }, callback: (v: any) => (a.fmt ? a.fmt(Number(v)) : String(v)) },
    afterBuildTicks: (s: any) => { s.ticks = a.labels.map((v) => ({ value: v })); },
    afterFit: (s: any) => { if (pos === 'left') s.width = size; else s.height = size; },
  });

  let scales: any, padding: any;
  if (spec.hidden) {
    const h = spec.hidden;
    scales = { x: { type: 'linear', display: false, min: h.xMin, max: h.xMax }, y: { type: 'linear', display: false, min: h.yMin, max: h.yMax } };
    padding = { left: g.padL, top: g.padT, right: g.padR, bottom: g.padB };
  } else {
    scales = { x: axis(spec.x!, 'bottom', g.padB), y: axis(spec.y!, 'left', g.padL) };
    padding = { left: 0, top: g.padT, right: g.padR, bottom: 0 };
  }

  const notes = {
    id: 'notes',
    beforeDatasetsDraw(chart: any) {
      const { ctx, scales: { x, y } } = chart;
      spec.texts.forEach((t) => {
        const narrow = !t.family || t.family === NARROW;
        ctx.save();
        ctx.translate(x.getPixelForValue(t.x), y.getPixelForValue(t.y));
        if (t.rot) ctx.rotate((t.rot * Math.PI) / 180);
        if (narrow) ctx.scale(NARROW_SCALE, 1);
        ctx.font = `${t.weight || 'normal'} ${t.size}px ${narrow ? SANS : t.family}`;
        ctx.fillStyle = t.color || '#222';
        ctx.textAlign = t.align || 'center';
        ctx.textBaseline = 'middle';
        ctx.fillText(t.text, 0, 0);
        ctx.restore();
      });
    },
  };
  const frame = {
    id: 'frame',
    afterDatasetsDraw(chart: any) {
      if (spec.extra) spec.extra(chart);
      const f = spec.frame;
      if (!f) return;
      const { ctx, chartArea: a, scales: { x, y } } = chart;
      ctx.save();
      ctx.strokeStyle = f.color; ctx.lineWidth = 1;
      ctx.beginPath();
      const xt = (vals: number[], len: number) => vals.forEach((v) => { const p = Math.round(x.getPixelForValue(v)) + 0.5; ctx.moveTo(p, a.bottom); ctx.lineTo(p, a.bottom - len); ctx.moveTo(p, a.top); ctx.lineTo(p, a.top + len); });
      const yt = (vals: number[], len: number) => vals.forEach((v) => { const p = Math.round(y.getPixelForValue(v)) + 0.5; ctx.moveTo(a.left, p); ctx.lineTo(a.left + len, p); ctx.moveTo(a.right, p); ctx.lineTo(a.right - len, p); });
      xt(f.xMinor, f.minorLen); xt(f.xMajor, f.majorLen); yt(f.yMinor, f.minorLen); yt(f.yMajor, f.majorLen);
      ctx.stroke();
      ctx.lineWidth = f.width;
      ctx.strokeRect(a.left, a.top, a.right - a.left, a.bottom - a.top);
      ctx.restore();
    },
  };

  return {
    type: 'scatter',
    data: { datasets },
    options: {
      responsive: false, maintainAspectRatio: false, animation: false, devicePixelRatio: 1, events: [],
      layout: { padding, autoPadding: false },
      plugins: { legend: { display: false }, tooltip: { enabled: false } },
      scales,
    },
    plugins: [notes, frame],
  };
}

function ChartCanvas({ spec }: { spec: Spec }) {
  const ref = useRef<HTMLCanvasElement>(null);
  const g = geometry(spec);
  useEffect(() => {
    const chart = new Chart(ref.current!, buildConfig(spec));
    return () => chart.destroy();
  }, [spec]);
  return <canvas ref={ref} width={g.W} height={g.H} style={{ position: 'absolute', left: g.cl, top: g.ct, width: g.W, height: g.H }} />;
}

function Label({ x, y, size, family = NARROW, rot = 0, color = '#222', anchor = 'center', weight, children }: any) {
  const narrow = family === NARROW;
  const tx = anchor === 'left' ? '0' : '-50%';
  const sc = narrow ? ` scaleX(${NARROW_SCALE})` : '';
  return (
    <div style={{ position: 'absolute', left: x, top: y, transform: `translate(${tx},-50%) rotate(${rot}deg)${sc}`, transformOrigin: anchor === 'left' ? 'left center' : 'center center', fontSize: size, fontFamily: narrow ? SANS : family, color, whiteSpace: 'nowrap', lineHeight: 1, fontWeight: weight }}>
      {children}
    </div>
  );
}
const Sub = ({ children }: any) => <sub style={{ fontSize: '0.7em', verticalAlign: '-0.25em', lineHeight: 0 }}>{children}</sub>;
const Sup = ({ children }: any) => <sup style={{ fontSize: '0.7em', verticalAlign: '0.45em', lineHeight: 0 }}>{children}</sup>;

function Icon({ top, color }: { top: number; color: string }) {
  return <div style={{ position: 'absolute', left: 368, top, width: 31, height: 17, border: `3.5px solid ${color}`, borderRadius: 2, boxSizing: 'border-box' }} />;
}

const CAPTION_STYLE: any = { position: 'absolute', left: 368, width: 296, lineHeight: '26px', fontFamily: LEG_SERIF, fontStyle: 'italic', fontSize: 19, color: '#1a1a1a', textAlign: 'justify', textAlignLast: 'justify' };

export default function App() {
  return (
    <div style={{ position: 'absolute', left: 0, top: 0, width: 672, height: 1028, overflow: 'hidden', background: '#fff' }}>
      {SPECS.map((s, i) => <ChartCanvas key={i} spec={s} />)}

      {/* axis titles */}
      <Label x={41} y={126} size={13.5} family={SERIF} rot={-90}>Na<Sub>2</Sub>O+ K<Sub>2</Sub>O</Label>
      <Label x={67} y={248} size={10.5} anchor="left">Arc rock types</Label>
      <Label x={205} y={257} size={10.5}>SiO<Sub>2</Sub></Label>
      <Label x={358} y={123} size={10} anchor="left">Alkalies</Label>
      <Label x={536} y={258} size={10.5}>SiO<Sub>2</Sub></Label>
      <Label x={45} y={364} size={10.5}>K<Sub>2</Sub>O</Label>
      <Label x={207} y={486} size={10.5}>SiO<Sub>2</Sub></Label>
      <Label x={533} y={264} size={10}>FeO*</Label>
      <Label x={417} y={474} size={10}>Alk</Label>
      <Label x={641} y={474} size={10}>MgO</Label>
      <Label x={40} y={596} size={12} family={SANS} rot={-90}>Al/(Na+K)</Label>
      <Label x={202} y={723} size={10.5}>Al/(Ca+Na+K)</Label>
      <Label x={361} y={595} size={10.5}>Zr</Label>
      <Label x={534} y={718} size={10.5}>10<Sup>4</Sup>Ga/Al</Label>
      <Label x={17} y={867} size={10.5} family={SANS}>Rb</Label>
      <Label x={197} y={1022} size={10.5} family={SANS}>Yb+Ta</Label>

      {/* legend */}
      <svg style={{ position: 'absolute', left: 377, top: 731 }} width={14} height={14} viewBox="0 0 14 14">
        <path d="M5 1 H9 V5 H13 V9 H9 V13 H5 V9 H1 V5 H5 Z" fill="none" stroke="#ff8a1e" strokeWidth={1.8} />
      </svg>
      <Icon top={786} color="#3b8cf5" />
      <Icon top={813} color="#18b04c" />
      <Icon top={895} color="#ff7ad0" />
      {LEGEND_TEXT.map(([t, y], i) => (
        <div key={i} style={{ position: 'absolute', left: 410, top: y - 13, height: 26, lineHeight: '26px', fontFamily: LEG_SERIF, fontStyle: 'italic', fontSize: 19, color: '#1a1a1a', whiteSpace: 'nowrap' }}>{t}</div>
      ))}
      <div style={{ ...CAPTION_STYLE, top: 988 - 13 }}>
        <b>Figura 2.</b> Diagramas de
      </div>
      <div style={{ ...CAPTION_STYLE, top: 1015 - 13 }}>
        variación litogeoquímica.
      </div>
    </div>
  );
}
